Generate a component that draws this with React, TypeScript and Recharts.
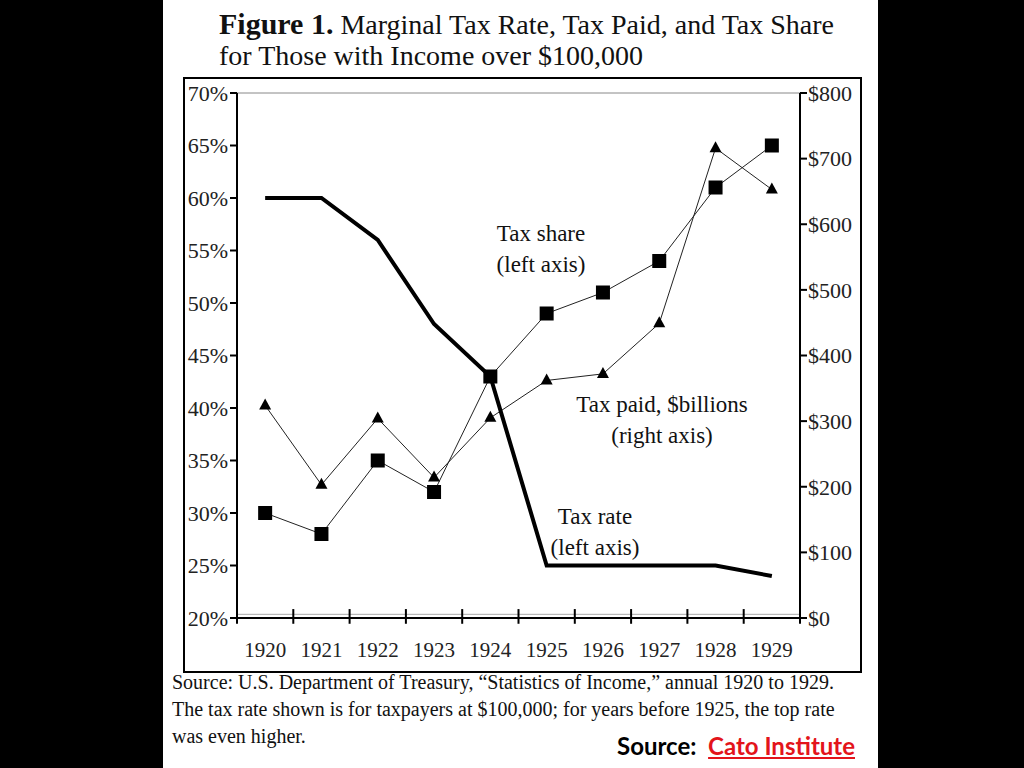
import React from 'react';
import {
  LineChart, Line, XAxis, YAxis, ReferenceLine
} from 'recharts';

const years = [1920, 1921, 1922, 1923, 1924, 1925, 1926, 1927, 1928, 1929];
const taxRate = [60, 60, 56, 48, 43, 25, 25, 25, 25, 24];
const taxShare = [30, 28, 35, 32, 43, 49, 51, 54, 61, 65];
const taxPaid = [324, 203, 304, 214, 305, 362, 372, 449, 716, 653];

const leftTicks = [20, 25, 30, 35, 40, 45, 50, 55, 60, 65, 70];
const rightTicks = [0, 100, 200, 300, 400, 500, 600, 700, 800];
const yearEdges = [...years.map(y => y - 0.5), years[years.length - 1] + 0.5];

const data = years.map((year, i) => ({
  year,
  rate: taxRate[i],
  share: taxShare[i],
  paid: taxPaid[i],
}));

const SERIF = '"Liberation Serif", "Times New Roman", serif';
const LEFT_MIN = leftTicks[0];
const LEFT_MAX = leftTicks[leftTicks.length - 1];

const SquareDot = (props: any) => {
  const { cx, cy, index } = props;
  return <rect key={`sq-${index}`} x={cx - 7} y={cy - 7} width={14} height={14} fill="#000" />;
};

const TriangleDot = (props: any) => {
  const { cx, cy, index } = props;
  return (
    <path
      key={`tr-${index}`}
      d={`M${cx},${cy - 7} L${cx + 6},${cy + 4} L${cx - 6},${cy + 4} Z`}
      fill="#000"
    />
  );
};

const xTickStyle = { fontSize: 21, fontFamily: SERIF, fill: '#222' };
const yTickStyle = { fontSize: 22, fontFamily: SERIF, fill: '#222' };
const noteStyle: React.CSSProperties = {
  position: 'absolute', fontFamily: SERIF, fontSize: 23, color: '#111',
  lineHeight: '31px', textAlign: 'center', whiteSpace: 'nowrap',
};

export default function App() {
  return (
    <div style={{ position: 'absolute', left: 0, top: 0, width: 1024, height: 768, background: '#000', overflow: 'hidden' }}>
      <div style={{ position: 'absolute', left: 163, top: 0, width: 715, height: 768, background: '#fff' }} />

      <div style={{ position: 'absolute', left: 219, top: 8, fontFamily: SERIF, fontSize: 28, lineHeight: '31px', color: '#111', whiteSpace: 'nowrap' }}>
        <span style={{ fontWeight: 'bold', fontSize: 30 }}>Figure 1.</span> Marginal Tax Rate, Tax Paid, and Tax Share
        <br />
        for Those with Income over $100,000
      </div>

      <div style={{ position: 'absolute', left: 183, top: 77, width: 679, height: 596, border: '2px solid #000', boxSizing: 'border-box' }} />

      <div style={{ position: 'absolute', left: 183, top: 77 }}>
        <LineChart width={679} height={596} data={data} margin={{ top: 16, right: 0, bottom: 0, left: 0 }}>
          <XAxis
            xAxisId="years"
            dataKey="year"
            type="number"
            domain={[yearEdges[0], yearEdges[yearEdges.length - 1]]}
            ticks={years}
            interval={0}
            axisLine={{ stroke: '#000', strokeWidth: 2 }}
            tickLine={false}
            tickSize={0}
            tickMargin={24}
            height={55}
            tick={xTickStyle}
          />
          <YAxis
            yAxisId="left"
            domain={[LEFT_MIN, LEFT_MAX]}
            ticks={leftTicks}
            interval={0}
            tickFormatter={v => `${v}%`}
            width={54}
            tickSize={7}
            tickMargin={2}
            tick={yTickStyle}
            axisLine={{ stroke: '#000', strokeWidth: 2 }}
            tickLine={{ stroke: '#000', strokeWidth: 2 }}
          />
          <YAxis
            yAxisId="right"
            orientation="right"
            domain={[0, 800]}
            ticks={rightTicks}
            interval={0}
            tickFormatter={v => `$${v}`}
            width={62}
            tickSize={7}
            tickMargin={1}
            tick={yTickStyle}
            axisLine={{ stroke: '#000', strokeWidth: 2 }}
            tickLine={{ stroke: '#000', strokeWidth: 2 }}
          />
          <ReferenceLine yAxisId="left" xAxisId="years" y={LEFT_MAX} stroke="#888" strokeWidth={1} />
          <ReferenceLine yAxisId="left" xAxisId="years" y={LEFT_MIN + 0.35} stroke="#aaa" strokeWidth={1} />
          {yearEdges.map(edge => (
            <ReferenceLine
              key={`edge-${edge}`}
              yAxisId="left"
              xAxisId="years"
              ifOverflow="visible"
              segment={[{ x: edge, y: LEFT_MIN - 0.55 }, { x: edge, y: LEFT_MIN + 0.85 }]}
              stroke="#000"
              strokeWidth={2}
            />
          ))}
          <Line
            xAxisId="years"
            yAxisId="right"
            type="linear"
            dataKey="paid"
            stroke="#222"
            strokeWidth={1}
            dot={TriangleDot}
            activeDot={false}
            isAnimationActive={false}
          />
          <Line
            xAxisId="years"
            yAxisId="left"
            type="linear"
            dataKey="share"
            stroke="#222"
            strokeWidth={1}
            dot={SquareDot}
            activeDot={false}
            isAnimationActive={false}
          />
          <Line
            xAxisId="years"
            yAxisId="left"
            type="linear"
            dataKey="rate"
            stroke="#000"
            strokeWidth={4}
            dot={false}
            activeDot={false}
            isAnimationActive={false}
          />
        </LineChart>
      </div>

      <div style={{ ...noteStyle, left: 476, top: 218, width: 130 }}>Tax share<br />(left axis)</div>
      <div style={{ ...noteStyle, left: 552, top: 389, width: 220 }}>Tax paid, $billions<br />(right axis)</div>
      <div style={{ ...noteStyle, left: 540, top: 501, width: 110 }}>Tax rate<br />(left axis)</div>

      <div style={{ position: 'absolute', left: 172, top: 669, fontFamily: SERIF, fontSize: 20, lineHeight: '27px', color: '#111', whiteSpace: 'nowrap' }}>
        Source: U.S. Department of Treasury, “Statistics of Income,” annual 1920 to 1929.
        <br />
        The tax rate shown is for taxpayers at $100,000; for years before 1925, the top rate
        <br />
        was even higher.
      </div>

      <div style={{ position: 'absolute', left: 617, top: 731, fontFamily: 'Lato, sans-serif', fontWeight: 'bold', fontSize: 24, color: '#000', whiteSpace: 'nowrap' }}>
        Source:&nbsp; <span style={{ color: '#e3141b', textDecoration: 'underline' }}>Cato Institute</span>
      </div>
    </div>
  );
}
